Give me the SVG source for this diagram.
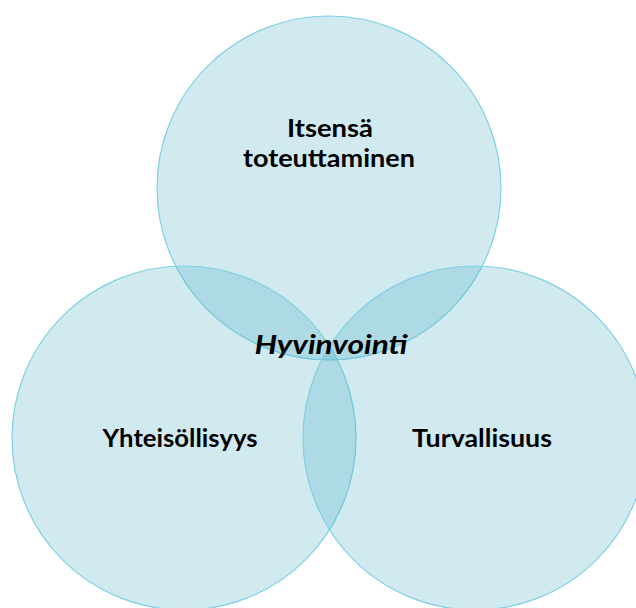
<svg xmlns="http://www.w3.org/2000/svg" width="636" height="608" viewBox="0 0 636 608">
  <style>
    .ring { fill: #4BACC6; fill-opacity: 0.26; stroke: #7FD0E2; stroke-width: 1.2; }
    .lbl { font-family: Lato, "Open Sans", "Liberation Sans", sans-serif; font-weight: bold; font-size: 24px; fill: #000; text-anchor: middle; }
    .hub { font-style: italic; font-size: 27px; }
  </style>
  <rect width="636" height="608" fill="#ffffff"/>
  <g id="itsensa-toteuttaminen">
    <circle class="ring" cx="329" cy="188" r="172"/>
    <text class="lbl" x="330" y="137" textLength="86" lengthAdjust="spacingAndGlyphs">Itsensä</text>
    <text class="lbl" x="329" y="167" textLength="172" lengthAdjust="spacingAndGlyphs">toteuttaminen</text>
  </g>
  <g id="yhteisollisyys">
    <circle class="ring" cx="184" cy="438" r="172"/>
    <text class="lbl" x="180" y="447" textLength="155" lengthAdjust="spacingAndGlyphs">Yhteisöllisyys</text>
  </g>
  <g id="turvallisuus">
    <circle class="ring" cx="475" cy="438" r="172"/>
    <text class="lbl" x="482" y="447" textLength="140" lengthAdjust="spacingAndGlyphs">Turvallisuus</text>
  </g>
  <g id="hyvinvointi">
    <text class="lbl hub" x="331" y="354" textLength="153" lengthAdjust="spacingAndGlyphs">Hyvinvointi</text>
  </g>
  <g id="connectors"></g>
</svg>
